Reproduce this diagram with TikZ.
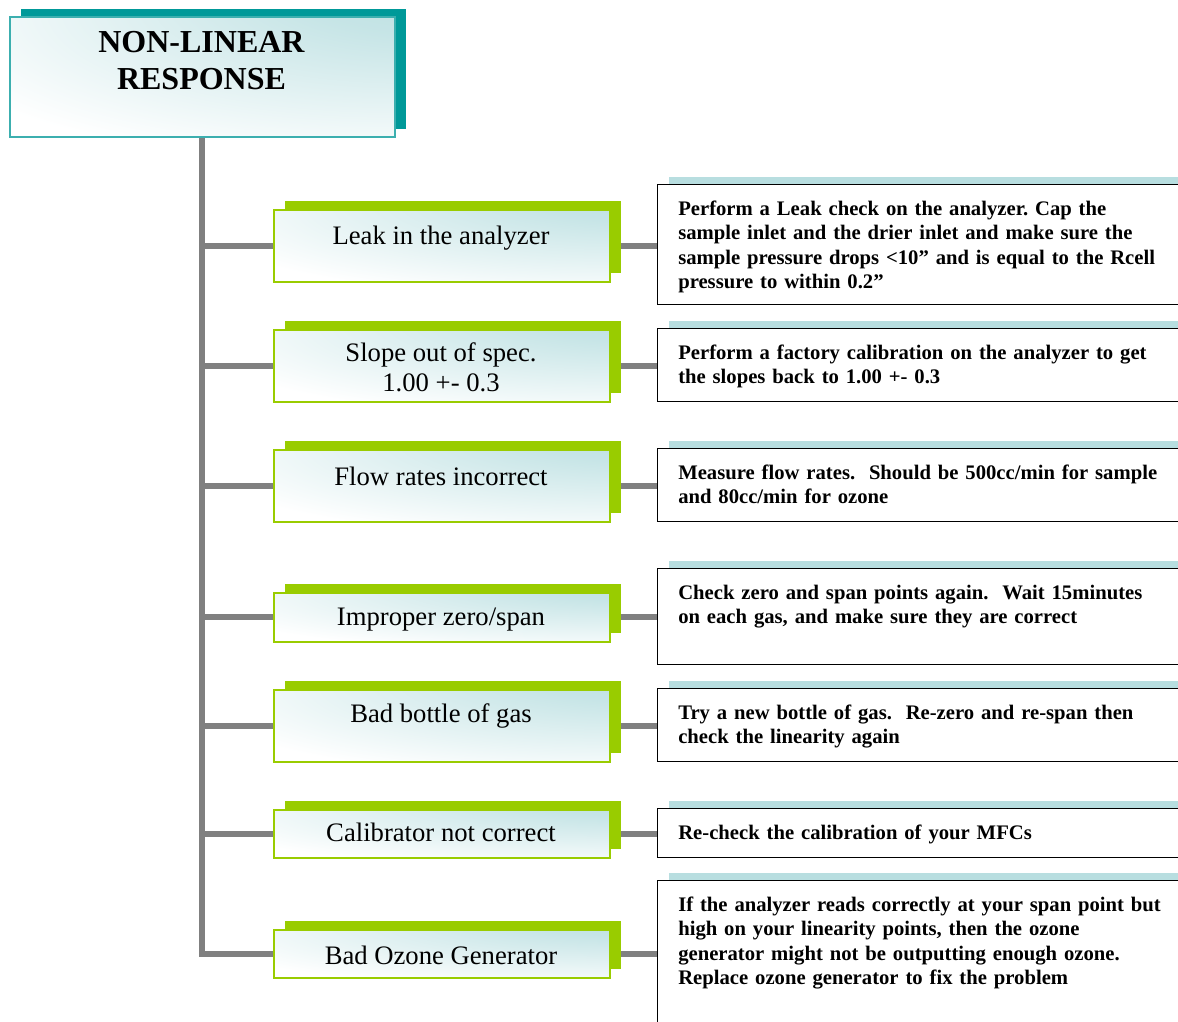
\documentclass[tikz,border=0pt]{standalone}
\usepackage{fontspec}
\setmainfont{Liberation Serif}
\usetikzlibrary{shadows,backgrounds}

\definecolor{tealtint}{RGB}{184,222,224}
\definecolor{tealdark}{RGB}{0,153,153}
\definecolor{tealedge}{RGB}{60,175,175}
\definecolor{leafgreen}{RGB}{153,204,0}
\definecolor{stemgray}{RGB}{128,128,128}

% soft tint glowing from the upper right corner of a box
\pgfdeclareradialshading{glow}{\pgfpoint{35bp}{40bp}}{color(0bp)=(tealtint); color(18bp)=(tealtint!80!white); color(60bp)=(white); color(150bp)=(white)}

\tikzset{
  titlebox/.style={draw=tealedge, line width=1.2pt, shade, shading=glow,
    anchor=north west, inner sep=0pt, minimum width=288.75pt, minimum height=90pt,
    general shadow={fill=tealdark, draw=none, shadow xshift=8.25pt, shadow yshift=5.6pt}},
  causebox/.style={draw=leafgreen, line width=1.2pt, shade, shading=glow,
    anchor=north west, inner sep=0pt, minimum width=252pt, minimum height=#1,
    general shadow={fill=leafgreen, draw=none, shadow xshift=8.5pt, shadow yshift=6.75pt}},
  fixbox/.style={draw=black, line width=1.1pt, fill=white,
    anchor=north west, inner sep=0pt, minimum width=420pt, minimum height=#1,
    general shadow={fill=tealtint, draw=none, shadow xshift=8.25pt, shadow yshift=6pt}},
  titletext/.style={anchor=base, inner sep=0pt, text width=288pt, align=center,
    font=\fontsize{24pt}{27.75pt}\selectfont\bfseries},
  causetext/.style={anchor=base, inner sep=0pt, align=center,
    font=\fontsize{20pt}{22.5pt}\selectfont},
  fixtext/.style={anchor=base west, inner sep=0pt, text width=375pt, align=left,
    font=\fontsize{15.5pt}{18.4pt}\selectfont\bfseries\frenchspacing},
  stem/.style={draw=stemgray, line width=4.5pt},
}

\begin{document}
\begin{tikzpicture}[x=0.75pt, y=-0.75pt]
  \useasboundingbox (0,0) rectangle (1178,1021);

  % heading
  \node[titlebox] (title) at (9,16) {};
  \node[titletext] (titlelbl) at (201.5,52) {NON-LINEAR\\RESPONSE};

  % causes
  \node[causebox=54pt]    (b1) at (273,209) {};
  \node[causebox=54pt]    (b2) at (273,329) {};
  \node[causebox=54pt]    (b3) at (273,449) {};
  \node[causebox=36.75pt] (b4) at (273,592) {};
  \node[causebox=54pt]    (b5) at (273,689) {};
  \node[causebox=36pt]    (b6) at (273,809) {};
  \node[causebox=36pt]    (b7) at (273,929) {};

  % single-line labels sit on their baseline; the two-line one on its last line
  \node[causetext] (t1) at (441,244) {Leak in the analyzer};
  \node[causetext] (t2) at (441,391) {Slope out of spec.\\1.00 +- 0.3};
  \node[causetext] (t3) at (441,485) {Flow rates incorrect};
  \node[causetext] (t4) at (441,625) {Improper zero/span};
  \node[causetext] (t5) at (441,722) {Bad bottle of gas};
  \node[causetext] (t6) at (441,841) {Calibrator not correct};
  \node[causetext] (t7) at (441,964) {Bad Ozone Generator};

  % remedies
  \node[fixbox=90pt]    (r1) at (657,184) {};
  \node[fixbox=54.75pt] (r2) at (657,328) {};
  \node[fixbox=54.75pt] (r3) at (657,448) {};
  \node[fixbox=72pt]    (r4) at (657,568) {};
  \node[fixbox=54.75pt] (r5) at (657,688) {};
  \node[fixbox=36.75pt] (r6) at (657,808) {};
  \node[fixbox=120pt]   (r7) at (657,880) {};

  \node[fixtext] (f1) at (678,215) {Perform a Leak check on the analyzer. Cap the\\
    sample inlet and the drier inlet and make sure the\\
    sample pressure drops <10” and is equal to the Rcell\\
    pressure to within 0.2”};
  \node[fixtext] (f2) at (678,359) {Perform a factory calibration on the analyzer to get\\
    the slopes back to 1.00 +- 0.3};
  \node[fixtext] (f3) at (678,479) {Measure flow rates.\ \ Should be 500cc/min for sample\\
    and 80cc/min for ozone};
  \node[fixtext] (f4) at (678,599) {Check zero and span points again.\ \ Wait 15minutes\\
    on each gas, and make sure they are correct};
  \node[fixtext] (f5) at (678,719) {Try a new bottle of gas.\ \ Re-zero and re-span then\\
    check the linearity again};
  \node[fixtext] (f6) at (678,839) {Re-check the calibration of your MFCs};
  \node[fixtext] (f7) at (678,911) {If the analyzer reads correctly at your span point but\\
    high on your linearity points, then the ozone\\
    generator might not be outputting enough ozone.\\
    Replace ozone generator to fix the problem};

  % connectors behind the boxes
  \begin{scope}[on background layer]
    \fill[white] (0,0) rectangle (1178,1021);
    \draw[stem] (title.south) |- (b7.west);
    \foreach \i in {1,...,6}
      \draw[stem] (title.south |- b\i.west) -- (b\i.west);
    \foreach \i in {1,...,7}
      \draw[stem] (b\i.east) -- (r\i.west |- b\i.east);
  \end{scope}
\end{tikzpicture}
\end{document}
